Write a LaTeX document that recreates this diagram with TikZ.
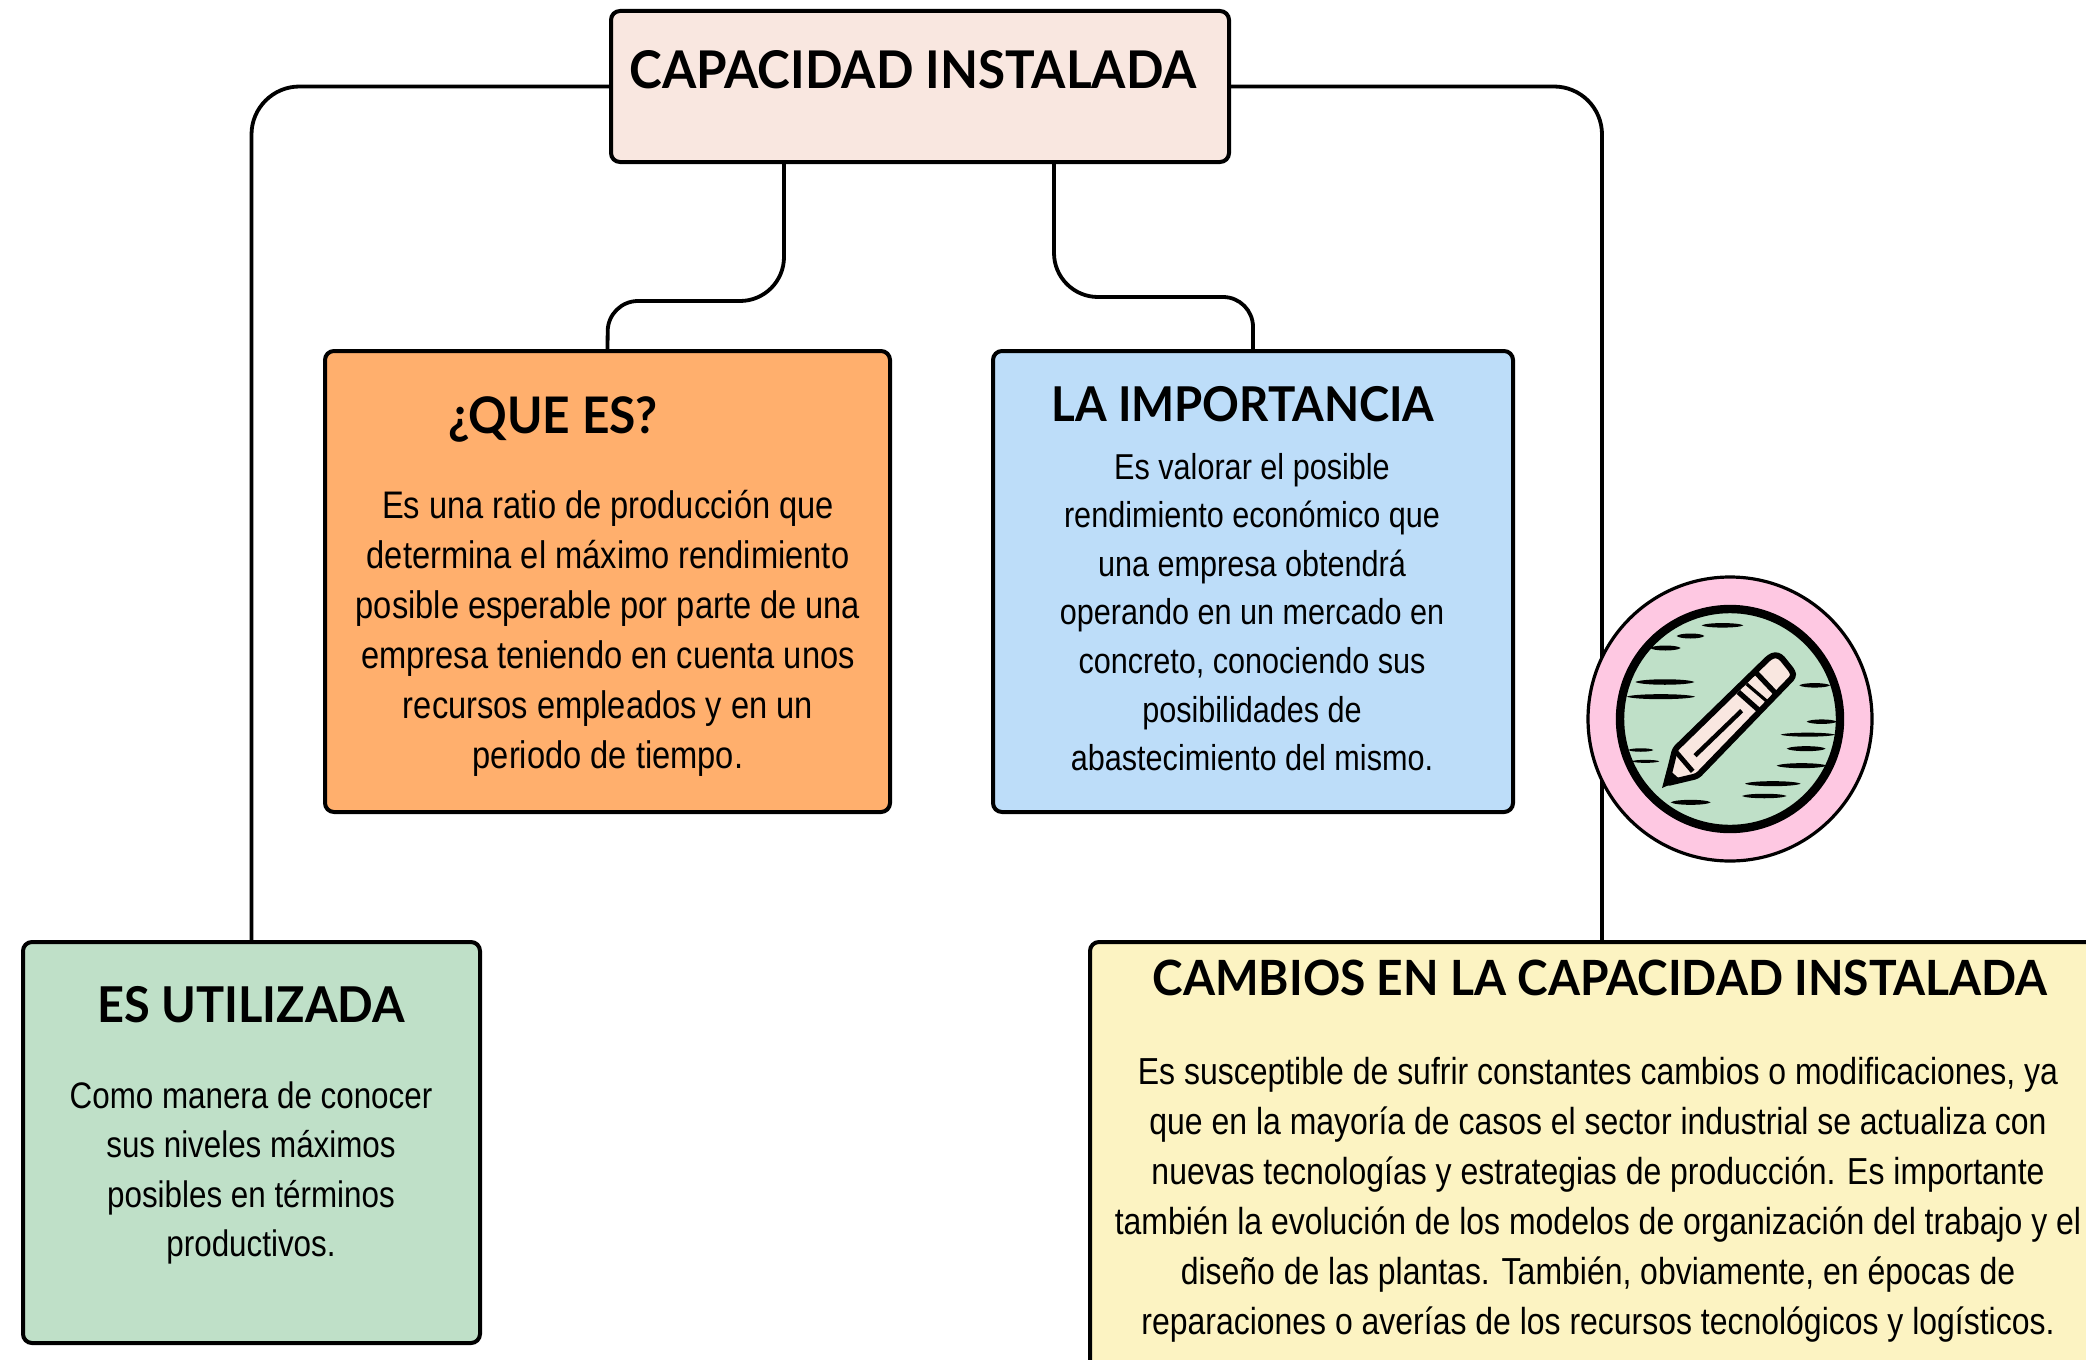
\documentclass[tikz,border=0pt]{standalone}
\usepackage{fontspec}
\setmainfont[FakeStretch=0.85]{Liberation Sans}
\newfontfamily\titlefont[FakeStretch=0.95]{Lato Bold}
\definecolor{cTop}{HTML}{F9E7E0}
\definecolor{cOrange}{HTML}{FFAF6D}
\definecolor{cBlue}{HTML}{BDDDF9}
\definecolor{cGreen}{HTML}{BFE0C8}
\definecolor{cYellow}{HTML}{FCF3C2}
\definecolor{cPink}{HTML}{FEC8E2}
\newcommand{\lens}[4]{\fill[black] (#1,#3) .. controls (#1+0.12*#2-0.12*#1,#3-#4) and (#2-0.12*#2+0.12*#1,#3-#4) .. (#2,#3) .. controls (#2-0.12*#2+0.12*#1,#3+#4) and (#1+0.12*#2-0.12*#1,#3+#4) .. cycle;}
\tikzset{
  boxnode/.style={draw=black,line width=2pt,rounded corners=4.5pt,inner sep=0pt},
  conn/.style={draw=black,line width=1.9pt},
  titletext/.style={inner sep=0pt,text=black},
  bodytext/.style={align=center,inner sep=0pt,text=black},
}
\begin{document}
\begin{tikzpicture}[x=0.5pt,y=-0.5pt]
\useasboundingbox (0,0) rectangle (2086,1359);
\clip (0,0) rectangle (2086,1359);
\fill[white] (0,0) rectangle (2086,1359);
% boxes
\node[boxnode,fill=cTop,minimum width=309pt,minimum height=75.5pt] (top) at (920,86.5) {};
\node[boxnode,fill=cOrange,minimum width=282.5pt,minimum height=230.5pt] (orange) at (607.5,581.5) {};
\node[boxnode,fill=cBlue,minimum width=260pt,minimum height=230.5pt] (blue) at (1253,581.5) {};
\node[boxnode,fill=cGreen,minimum width=228.5pt,minimum height=200.5pt] (green) at (251.5,1142.5) {};
\node[boxnode,fill=cYellow,minimum width=512pt,minimum height=300pt] (yellow) at (1602,1242) {};
% connector way-points
\coordinate (tl) at (784,162);
\coordinate (tr) at (1054,162);
\coordinate (ela) at (784,301);
\coordinate (elb) at (608,301);
\coordinate (era) at (1054,297);
\coordinate (erb) at (1253,297);
% connectors
\draw[conn,rounded corners=24pt] (top.west) -| (green.north);
\draw[conn,rounded corners=24pt] (top.east) -| (yellow.north);
\draw[conn,rounded corners=22pt] (tl) -- (ela) [rounded corners=15pt] -- (elb) -- (orange.north);
\draw[conn,rounded corners=22pt] (tr) -- (era) [rounded corners=15pt] -- (erb) -- (blue.north);
% badge
\begin{scope}[shift={(1730,719)}]
\filldraw[draw=black,fill=cPink,line width=1.6pt] (0,0) circle (142);
\filldraw[draw=black,fill=cGreen,line width=4.2pt] (0,0) circle (110);
\end{scope}
\begin{scope}[shift={(1560,560)},scale=1/3]
\lens{425}{550}{196}{9}
\lens{350}{433}{228}{10}
\lens{270}{362}{264}{10}
\lens{226}{403}{366}{11}
\lens{200}{405}{410}{10}
\lens{205}{280}{570}{7}
\lens{215}{298}{604}{6}
\lens{332}{452}{727}{10}
\lens{546}{680}{708}{9}
\lens{555}{722}{671}{10}
\lens{650}{800}{617}{10}
\lens{680}{797}{566}{10}
\lens{662}{825}{524}{8}
\lens{740}{830}{485}{9}
\lens{718}{810}{376}{9}
% pencil
\filldraw[draw=black,fill=cTop,line width=3pt,line join=round,rounded corners=1.5pt]
  (320,670) -- (345,568) -- (628,292) -- (645,284) -- (662,290) -- (698,335) -- (700,350) -- (412,648) -- cycle;
\fill[black] (306,684) -- (322,625) -- (362,660) -- cycle;
\draw[black,line width=2.4pt] (350,578) -- (398,634);
\draw[black,line width=2.6pt] (590,340) -- (645,398);
\draw[black,line width=1.6pt] (560,372) -- (622,425);
\draw[black,line width=2.6pt] (535,396) -- (598,452);
\draw[black,line width=2.2pt] (405,587) -- (545,452);
\end{scope}
% texts
\node[titletext,font=\titlefont\fontsize{26}{30}\selectfont] (ttop) at (913,70) {CAPACIDAD INSTALADA};
\node[titletext,font=\titlefont\fontsize{25.2}{30}\selectfont] (torange) at (553,419) {¿QUE ES?};
\node[titletext,font=\titlefont\fontsize{24}{30}\selectfont] (tblue) at (1243,404) {LA IMPORTANCIA};
\node[titletext,font=\titlefont\fontsize{24.7}{30}\selectfont] (tgreen) at (251,1005) {ES UTILIZADA};
\node[titletext,font=\titlefont\fontsize{24.3}{30}\selectfont] (tyellow) at (1600,978) {CAMBIOS EN LA CAPACIDAD INSTALADA};
\node[bodytext,font=\fontsize{19.2}{25}\selectfont] (borange) at (608,633) {Es una ratio de producción que\\determina el máximo rendimiento\\posible esperable por parte de una\\empresa teniendo en cuenta unos\\recursos empleados y en un\\periodo de tiempo.};
\node[bodytext,font=\fontsize{18}{24.3}\selectfont] (bblue) at (1252,612) {Es valorar el posible\\rendimiento económico que\\una empresa obtendrá\\operando en un mercado en\\concreto, conociendo sus\\posibilidades de\\abastecimiento del mismo.};
\node[bodytext,font=\fontsize{18.45}{24.6}\selectfont] (bgreen) at (251,1173) {Como manera de conocer\\sus niveles máximos\\posibles en términos\\productivos.};
\node[bodytext,font=\fontsize{18.8}{25}\selectfont] (byellow) at (1598,1200) {Es susceptible de sufrir constantes cambios o modificaciones, ya\\que en la mayoría de casos el sector industrial se actualiza con\\nuevas tecnologías y estrategias de producción. Es importante\\también la evolución de los modelos de organización del trabajo y el\\diseño de las plantas. También, obviamente, en épocas de\\reparaciones o averías de los recursos tecnológicos y logísticos.};
\end{tikzpicture}
\end{document}
